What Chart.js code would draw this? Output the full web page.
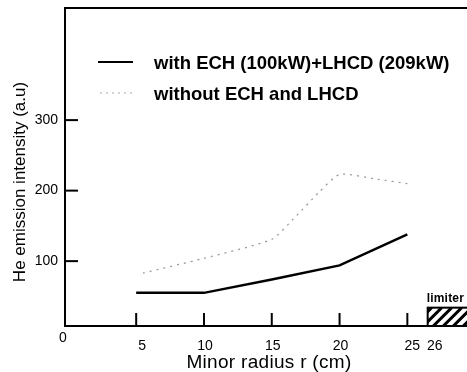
<!DOCTYPE html>
<html>
<head>
<meta charset="utf-8">
<script src="https://cdn.jsdelivr.net/npm/chart.js@4.4.1/dist/chart.umd.min.js"></script>
<style>
  html, body { margin: 0; padding: 0; background: #fff; }
  #wrap { width: 467px; height: 372px; }
</style>
</head>
<body>
<div id="wrap"><canvas id="chart" width="467" height="372"></canvas></div>
<script>
// data
const radiusWith = [5, 10, 15, 20, 25];
const intensityWith = [55, 55, 74, 94, 138];
const radiusWithout = [5.5, 10, 15, 16.7, 18.5, 20, 22.8, 25];
const intensityWithout = [83, 104, 131, 162, 198, 223, 216, 210];
const xTicks = [5, 10, 15, 20, 25];
const yTicks = [100, 200, 300];
const limiterStart = 26.5;
const limiterHeight = 26;
const labelWith = 'with ECH (100kW)+LHCD (209kW)';
const labelWithout = 'without ECH and LHCD';

const toPoints = (xs, ys) => xs.map((x, i) => ({ x: x, y: ys[i] }));

const FONT = '"Liberation Sans", Arial, sans-serif';

const axesPlugin = {
  id: 'axesPlugin',
  afterDatasetsDraw(chart) {
    const ctx = chart.ctx;
    const x = chart.scales.x;
    const y = chart.scales.y;
    const area = chart.chartArea;
    ctx.save();
    ctx.strokeStyle = '#000';
    ctx.fillStyle = '#000';

    // frame: left axis, bottom axis, top border
    ctx.lineWidth = 2;
    ctx.beginPath();
    ctx.moveTo(area.right, area.top);
    ctx.lineTo(area.left, area.top);
    ctx.lineTo(area.left, area.bottom);
    ctx.lineTo(area.right, area.bottom);
    ctx.stroke();

    // y ticks (inside) + labels
    ctx.font = '14px ' + FONT;
    ctx.textAlign = 'right';
    ctx.textBaseline = 'middle';
    yTicks.forEach(v => {
      const py = y.getPixelForValue(v);
      ctx.beginPath();
      ctx.moveTo(area.left, py);
      ctx.lineTo(area.left + 13, py);
      ctx.stroke();
      ctx.fillText(String(v), area.left - 7, py);
    });

    // x ticks (inside) + labels
    ctx.textAlign = 'center';
    ctx.textBaseline = 'alphabetic';
    xTicks.forEach(v => {
      const px = x.getPixelForValue(v);
      ctx.beginPath();
      ctx.moveTo(px, area.bottom);
      ctx.lineTo(px, area.bottom - 13);
      ctx.stroke();
      const shift = v === 25 ? 5 : (v === 5 ? 6 : 1);
      ctx.fillText(String(v), px + shift, area.bottom + 24);
    });
    ctx.fillText('0', area.left - 2, area.bottom + 16);

    // limiter box
    const lx = x.getPixelForValue(limiterStart);
    const ly = y.getPixelForValue(y.min + limiterHeight);
    const lw = area.right + 2 - lx;
    const lh = area.bottom - ly;
    ctx.fillText('26', lx + 7, area.bottom + 24);
    ctx.lineWidth = 2;
    ctx.strokeRect(lx, ly, lw, lh);
    ctx.save();
    ctx.beginPath();
    ctx.rect(lx, ly, lw, lh);
    ctx.clip();
    ctx.lineWidth = 3;
    for (let sx = lx - lh + 4; sx < area.right + 10; sx += 10) {
      ctx.beginPath();
      ctx.moveTo(sx, area.bottom);
      ctx.lineTo(sx + lh, ly);
      ctx.stroke();
    }
    ctx.restore();
    ctx.font = 'bold 12px ' + FONT;
    ctx.textAlign = 'left';
    ctx.letterSpacing = '0.2px';
    ctx.fillText('limiter', lx - 1, ly - 6);

    // axis titles
    ctx.font = '19px ' + FONT;
    ctx.letterSpacing = '0.3px';
    ctx.textAlign = 'center';
    ctx.fillText('Minor radius r (cm)', 269, 368);
    ctx.save();
    ctx.translate(25, 182);
    ctx.rotate(-Math.PI / 2);
    ctx.font = '17px ' + FONT;
    ctx.letterSpacing = '0px';
    ctx.fillText('He emission intensity (a.u)', 0, 0);
    ctx.restore();

    // legend
    ctx.font = 'bold 18.5px ' + FONT;
    ctx.textAlign = 'left';
    ctx.textBaseline = 'middle';
    ctx.letterSpacing = '0px';
    ctx.lineWidth = 2;
    ctx.beginPath();
    ctx.moveTo(98, 62);
    ctx.lineTo(133, 62);
    ctx.stroke();
    ctx.fillText(labelWith, 154, 64);
    ctx.strokeStyle = '#aaa';
    ctx.lineWidth = 1.2;
    ctx.setLineDash([2, 4]);
    ctx.beginPath();
    ctx.moveTo(100, 93);
    ctx.lineTo(133, 93);
    ctx.stroke();
    ctx.setLineDash([]);
    ctx.fillText(labelWithout, 154, 95);
    ctx.restore();
  }
};

new Chart(document.getElementById('chart'), {
  type: 'line',
  data: {
    datasets: [{
      label: labelWith,
      data: toPoints(radiusWith, intensityWith),
      borderColor: '#000',
      borderWidth: 2.5,
      pointRadius: 0,
      tension: 0
    }, {
      label: labelWithout,
      data: toPoints(radiusWithout, intensityWithout),
      borderColor: '#9a9a9a',
      borderWidth: 1.3,
      borderDash: [2, 5],
      pointRadius: 0,
      tension: 0.2
    }]
  },
  options: {
    responsive: false,
    animation: false,
    layout: {
      padding: { left: 65, top: 8, right: 0, bottom: 46 }
    },
    plugins: {
      legend: { display: false },
      tooltip: { enabled: false }
    },
    scales: {
      x: { type: 'linear', display: false, min: -0.25, max: 29.4 },
      y: { type: 'linear', display: false, min: 8, max: 459 }
    }
  },
  plugins: [axesPlugin]
});
</script>
</body>
</html>
